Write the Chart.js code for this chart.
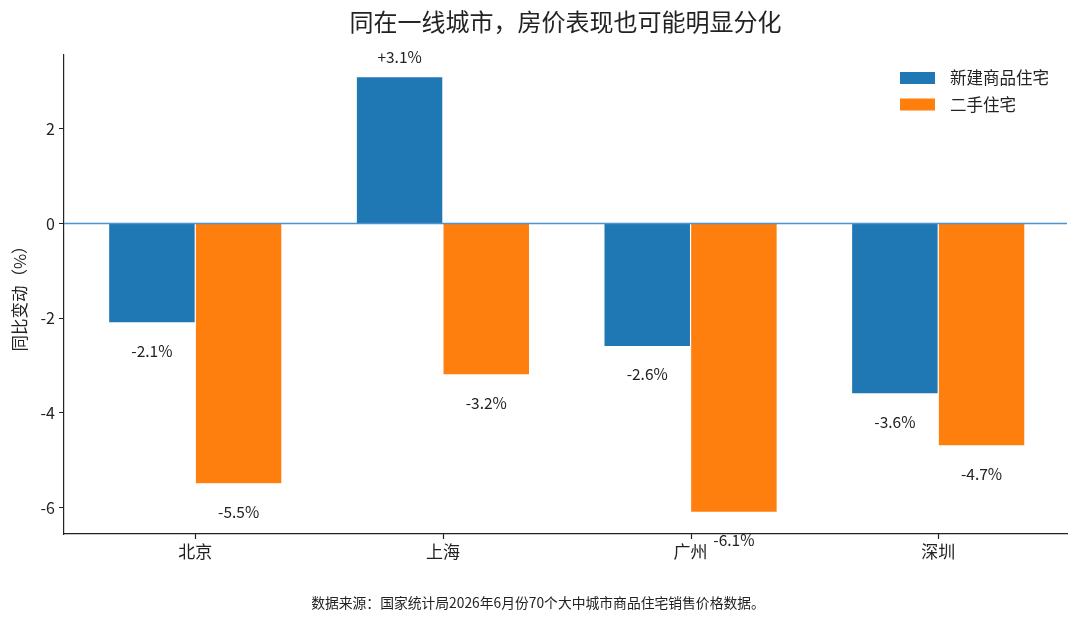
<!DOCTYPE html>
<html>
<head>
<meta charset="utf-8">
<script src="https://cdn.jsdelivr.net/npm/chart.js@4/dist/chart.umd.min.js"></script>
<style>
html,body{margin:0;padding:0;background:#fff;}
#wrap{width:1080px;height:623px;position:relative;}
</style>
</head>
<body>
<div id="wrap"><canvas id="chart"></canvas></div>
<script>
const cities=['北京','上海','广州','深圳'];
const newHome=[-2.1,3.1,-2.6,-3.6];
const secondHand=[-5.5,-3.2,-6.1,-4.7];
const yTicks=[-6,-4,-2,0,2];
const seriesNames=['新建商品住宅','二手住宅'];
const barcolor=['#1f77b4','#ff7f0e'];
const titleText='同在一线城市，房价表现也可能明显分化';
const noteText='数据来源：国家统计局2026年6月份70个大中城市商品住宅销售价格数据。';

const FONT='"Noto Sans CJK SC","Noto Sans",sans-serif';

const extras={
  id:'extras',
  afterDatasetsDraw(chart){
    const ctx=chart.ctx, a=chart.chartArea, y=chart.scales.y, x=chart.scales.x;
    ctx.save();
    // x tick marks
    ctx.strokeStyle='#222';ctx.lineWidth=1.2;
    cities.forEach((c,i)=>{
      const px=Math.round(x.getPixelForValue(i))+0.5;
      ctx.beginPath();ctx.moveTo(px,a.bottom);ctx.lineTo(px,a.bottom+5);ctx.stroke();
    });
    // zero line
    const y0=y.getPixelForValue(0);
    ctx.strokeStyle='#4a93cc';
    ctx.lineWidth=1.5;
    ctx.beginPath();ctx.moveTo(a.left,y0);ctx.lineTo(a.right,y0);ctx.stroke();
    // value labels
    ctx.font='15.5px '+FONT;
    ctx.fillStyle='#222';
    ctx.textAlign='center';ctx.textBaseline='middle';
    chart.data.datasets.forEach((ds,i)=>{
      chart.getDatasetMeta(i).data.forEach((bar,j)=>{
        const v=ds.data[j].y;
        const txt=(v>0?'+':'')+v.toFixed(1)+'%';
        ctx.fillText(txt,bar.x,v>=0?bar.y-20:bar.y+28);
      });
    });
    // legend
    ctx.font='16.5px '+FONT;
    ctx.textAlign='left';
    chart.data.datasets.forEach((ds,i)=>{
      const top=72+i*26.5;
      ctx.fillStyle=ds.backgroundColor;
      ctx.fillRect(900,top,35,12);
      ctx.fillStyle='#222';
      ctx.fillText(ds.label,950,top+6);
    });
    // title & note
    ctx.font='24px '+FONT;
    ctx.textAlign='center';
    ctx.fillText(titleText,(a.left+a.right)/2,22);
    ctx.font='13.8px '+FONT;
    ctx.fillText(noteText,538,603);
    ctx.restore();
  }
};

const data={
  datasets:[
    {label:seriesNames[0],data:newHome.map((v,i)=>({x:i,y:v})),backgroundColor:barcolor[0],borderColor:'#fff',borderWidth:0.6},
    {label:seriesNames[1],data:secondHand.map((v,i)=>({x:i,y:v})),backgroundColor:barcolor[1],borderColor:'#fff',borderWidth:0.6}
  ]
};

new Chart('chart',{
  type:'bar',
  data:data,
  plugins:[extras],
  options:{
    responsive:true,
    maintainAspectRatio:false,
    animation:false,
    layout:{padding:{top:55,right:13,left:0,bottom:0}},
    datasets:{bar:{categoryPercentage:0.7,barPercentage:1.0,grouped:true}},
    plugins:{legend:{display:false},tooltip:{enabled:false},title:{display:false}},
    scales:{
      x:{
        type:'linear',
        offset:false,
        min:-0.53,max:3.52,
        afterBuildTicks(s){s.ticks=cities.map((c,i)=>({value:i}));},
        afterFit(s){s.height=89;},
        grid:{display:true,drawOnChartArea:false,drawTicks:true,tickLength:8,color:'rgba(0,0,0,0)'},
        border:{display:true,color:'#222',width:1.2},
        ticks:{callback:(v)=>cities[v],color:'#222',font:{family:FONT,size:17},padding:-1,maxRotation:0,autoSkip:false}
      },
      y:{
        min:-6.56,max:3.56,
        afterBuildTicks(s){s.ticks=yTicks.map(v=>({value:v}));},
        afterFit(s){s.width=64;},
        grid:{drawOnChartArea:false,tickLength:5,color:'#222'},
        border:{display:true,color:'#222',width:1.2},
        ticks:{color:'#222',font:{family:FONT,size:16},padding:4},
        title:{display:true,text:'同比变动（%）',color:'#222',font:{family:FONT,size:16.5},padding:{top:10,bottom:2}}
      }
    }
  }
});
</script>
</body>
</html>
